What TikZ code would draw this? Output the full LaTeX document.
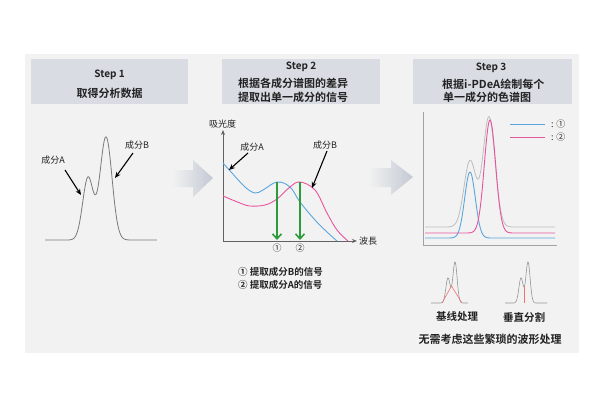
\documentclass[tikz,border=0pt]{standalone}
\usepackage{fontspec}
\setmainfont{Noto Sans CJK SC}[BoldFont={Noto Sans CJK SC Bold}]
\usetikzlibrary{arrows.meta}
\definecolor{bgc}{HTML}{F2F2F2}
\definecolor{hdr}{HTML}{D9DCE3}
\definecolor{blu}{HTML}{5AA6DC}
\definecolor{pnk}{HTML}{E8559E}
\definecolor{grn}{HTML}{2E9B3A}
\definecolor{arrc}{HTML}{C3C9D3}
\definecolor{txt}{HTML}{222222}
\definecolor{crv}{HTML}{7A7A7A}
\definecolor{lgr}{HTML}{BDBDBD}
\definecolor{redl}{HTML}{F07070}
\newcommand\fsz[1]{\fontsize{#1}{#1}\selectfont}
\tikzset{
  hdrbox/.style={fill=hdr, draw=none, minimum width=#1, minimum height=45pt, inner sep=0pt},
  steptxt/.style={text=txt, font=\fsz{10}\bfseries, inner sep=0pt},
  hdrtxt/.style={text=txt, font=\fsz{11}\bfseries, inner sep=0pt},
  lbl/.style={text=txt, font=\fsz{9}, inner sep=0pt},
  blbl/.style={text=txt, font=\fsz{9.5}\bfseries, inner sep=0pt},
  ptr/.style={-{Stealth[length=6pt,width=5pt]}, line width=1.1pt, black},
  grnarr/.style={-{Straight Barb[length=5pt,width=9pt]}, line width=1.6pt, grn},
  axis/.style={draw=crv!80!black, line width=0.8pt},
  bigarrow/.style={left color=bgc, right color=arrc, draw=none},
}
\begin{document}
\begin{tikzpicture}[x=1pt,y=-1pt]
\useasboundingbox (0,0) rectangle (600,400);
\fill[white] (0,0) rectangle (600,400);
\fill[bgc] (25,54) rectangle (579,353);

% headers
\node[hdrbox=157pt] (h1) at (109.5,81.5) {};
\node[hdrbox=158pt] (h2) at (301,81.5) {};
\node[hdrbox=159pt] (h3) at (492.5,81.5) {};
\node[steptxt] (s1) at (109.5,75) {Step 1};
\node[hdrtxt] (t1) at (109.5,93) {取得分析数据};
\node[steptxt] (s2) at (301,67) {Step 2};
\node[hdrtxt] (t2a) at (293,83) {根据各成分谱图的差异};
\node[hdrtxt] (t2b) at (293,97) {提取出单一成分的信号};
\node[steptxt] (s3) at (491,68) {Step 3};
\node[hdrtxt, anchor=west] (t3a) at (442,84) {根据i-PDeA绘制每个};
\node[hdrtxt, anchor=west] (t3b) at (443,97) {单一成分的色谱图};

% big arrows
\shade[bigarrow] (172,170) -- (193,170) -- (193,160) -- (213,178) -- (193,197) -- (193,187) -- (172,187) -- cycle;
\shade[bigarrow] (368,168) -- (391,168) -- (391,160) -- (413,177) -- (391,195) -- (391,187) -- (368,187) -- cycle;

% Step 1 chromatogram
\draw[crv, line width=0.8pt] plot[domain=45:157, samples=160]
  (\x,{240-62*exp(-1*((\x-88)/7.5)^2)-103*exp(-1*((\x-106)/8.5)^2)});
\node[lbl] (a1) at (53,160) {成分A};
\node[lbl] (b1) at (137,145) {成分B};
\coordinate (a1t) at (81,195);
\coordinate (b1t) at (115,178);
\draw[ptr] (65,170) -- (a1t);
\draw[ptr] (133,153) -- (b1t);

% Step 2 spectra
\coordinate (o2) at (223,241);
\coordinate (y2) at (223,130);
\coordinate (x2) at (357,241);
\draw[axis, -{Stealth[length=5pt,width=4pt]}] (o2) -- (y2);
\draw[axis, -{Stealth[length=5pt,width=4pt]}] (o2) -- (x2);
\node[lbl, anchor=west] (yl) at (209,124) {吸光度};
\node[lbl, anchor=west] (xl) at (359,241) {波長};
\draw[blu, line width=0.9pt] plot[smooth, tension=0.6] coordinates
  {(223,163) (232,173) (245,187) (255,193) (263,190) (277,182) (290,187) (300,202) (315,220) (327,232) (337,241)};
\draw[pnk, line width=0.9pt] plot[smooth, tension=0.6] coordinates
  {(223,196) (240,203) (250,206) (265,205) (277,199) (290,187) (300,182) (315,190) (327,213) (337,230) (348,241)};
\draw[grnarr] (277,182) -- (277,240);
\draw[grnarr] (300,182) -- (300,240);
\node[lbl] (n1) at (277,248) {①};
\node[lbl] (n2) at (300,248) {②};
\node[lbl] (a2) at (252,147) {成分A};
\node[lbl] (b2) at (325,145) {成分B};
\draw[ptr] (248,153) -- (229,170);
\draw[ptr] (327,151) -- (312,188);
\node[blbl, anchor=west] (l1) at (238,272) {①\ 提取成分B的信号};
\node[blbl, anchor=west] (l2) at (238,285) {②\ 提取成分A的信号};

% Step 3 chromatograms
\coordinate (o3) at (423,245);
\draw[axis, draw=crv!70] (423,112) -- (o3) -- (557,245);
\draw[lgr, line width=0.8pt] plot[domain=425:555, samples=200]
  (\x,{227-66*exp(-1*((\x-470)/8.5)^2)-110*exp(-1*((\x-489)/8.5)^2)});
\draw[blu, line width=0.9pt] plot[domain=425:555, samples=200]
  (\x,{238-66*exp(-1*((\x-470)/7.5)^2)});
\draw[pnk, line width=0.9pt] plot[domain=425:555, samples=200]
  (\x,{233-113*exp(-1*((\x-490)/8)^2)});
\draw[blu, line width=0.9pt] (510,124) -- (545,124);
\draw[pnk, line width=0.9pt] (510,137) -- (545,137);
\node[lbl, anchor=west] (k1) at (551,124) {: ①};
\node[lbl, anchor=west] (k2) at (551,137) {: ②};

% small chromatograms
\draw[crv!80, line width=0.6pt] plot[domain=431:468, samples=100]
  (\x,{303-25*exp(-1*((\x-448)/3)^2)-41*exp(-1*((\x-455)/3)^2)});
\draw[redl, line width=0.6pt] (442,303) -- (451.5,286) -- (462,303);
\draw[crv!80, line width=0.6pt] plot[domain=505:547, samples=100]
  (\x,{303-25*exp(-1*((\x-521)/3)^2)-41*exp(-1*((\x-528)/3)^2)});
\draw[redl, line width=0.6pt] (524.5,286) -- (524.5,303);
\node[text=txt, font=\fsz{10.5}\bfseries, inner sep=0pt] (c1) at (457,317) {基线处理};
\node[text=txt, font=\fsz{10.5}\bfseries, inner sep=0pt] (c2) at (524,317) {垂直分割};
\node[text=txt, font=\fsz{11}\bfseries, inner sep=0pt] (ft) at (490,339) {无需考虑这些繁琐的波形处理};
\end{tikzpicture}
\end{document}
